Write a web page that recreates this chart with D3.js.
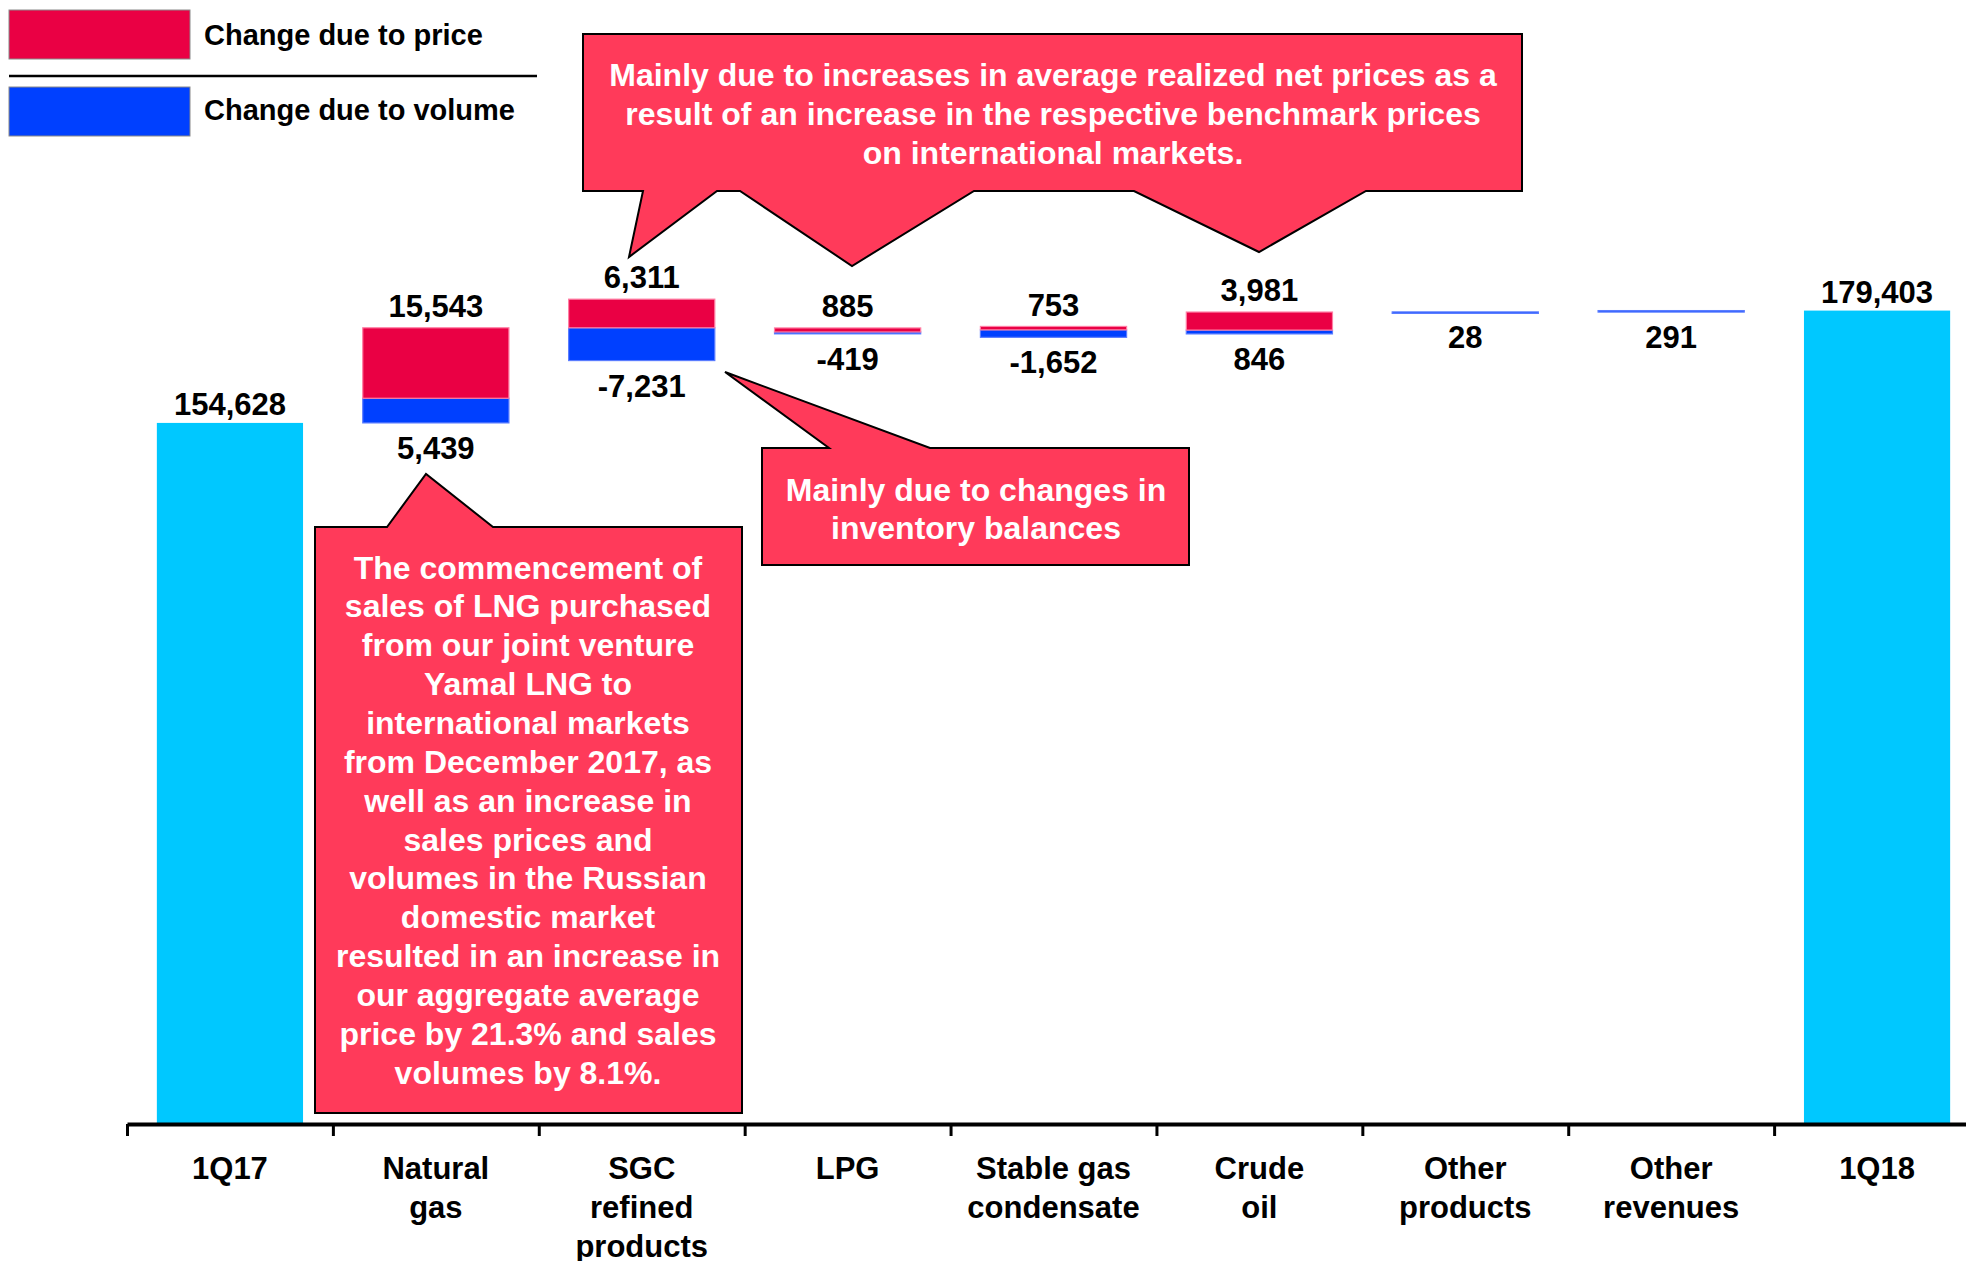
<!DOCTYPE html>
<html>
<head>
<meta charset="utf-8">
<style>
    body {
        margin: 0;
        background: white;
    }
    svg text {
        font-family: "Liberation Sans", Arial, Helvetica, sans-serif;
        font-weight: bold;
    }
</style>
<script src="https://cdn.jsdelivr.net/npm/d3@7"></script>
</head>
<body>
<svg id="chart"></svg>
<script>

// values
let categories = ["1Q17", "Natural gas", "SGC refined products", "LPG", "Stable gas condensate",
    "Crude oil", "Other products", "Other revenues", "1Q18"];
let categoryLines = [["1Q17"], ["Natural", "gas"], ["SGC", "refined", "products"], ["LPG"],
    ["Stable gas", "condensate"], ["Crude", "oil"], ["Other", "products"], ["Other", "revenues"], ["1Q18"]];
let totals = [154628, null, null, null, null, null, null, null, 179403];
let priceChange = [null, 15543, 6311, 885, 753, 3981, null, null, null];
let volumeChange = [null, 5439, -7231, -419, -1652, 846, 28, 291, null];
let legendLabels = ["Change due to price", "Change due to volume"];

let colors = {
    total: "#00c8ff",
    price: "#ea0044",
    volume: "#0040ff",
    priceEdge: "#ff7ea4",
    volumeEdge: "#5a7cff",
    callout: "#ff3a5a"
};

let fmt = d3.formatLocale({decimal: ".", thousands: ",", grouping: [3], currency: ["", ""], minus: "-"}).format(",");

// waterfall steps: volume goes first, price stacked on top of it
function buildSteps() {
    let steps = [];
    let running = 0;
    categories.forEach((c, i) => {
        if (totals[i] != null) {
            running = totals[i];
            steps.push({cat: c, total: totals[i], segs: [], top: totals[i], bottom: 0});
            return;
        }
        let up = running, down = running;
        let segs = [];
        [["volume", volumeChange[i]], ["price", priceChange[i]]].forEach(([type, v]) => {
            if (v == null) return;
            if (v >= 0) { segs.push({type, y0: up, y1: up + v}); up += v; }
            else { segs.push({type, y0: down + v, y1: down}); down += v; }
        });
        running += (priceChange[i] || 0) + (volumeChange[i] || 0);
        steps.push({cat: c, segs, top: up, bottom: down, price: priceChange[i], volume: volumeChange[i]});
    });
    return steps;
}

function getConfig() {
    let width = 1966;
    let height = 1261;
    let axisY = 1124;
    let container = d3.select("#chart").attr("width", width).attr("height", height);
    return {width, height, axisY, container};
}

function getScales(config) {
    let xScale = d3.scaleBand()
        .domain(categories)
        .range([127, 1980])
        .padding(0);
    // edges of the bands, used for the tick marks
    let xEdge = d3.scaleLinear()
        .domain([0, categories.length])
        .range(xScale.range());
    let yScale = d3.scaleLinear()
        .domain([0, 200000])
        .range([config.axisY, config.axisY - 200000 * 0.004534]);
    return {xScale, xEdge, yScale};
}

function drawBars(steps, scales, config) {
    let {xScale, yScale} = scales;
    let barW = xScale.bandwidth() * 0.71;
    let off = (xScale.bandwidth() - barW) / 2;
    let body = config.container.append("g");

    body.selectAll(".total").data(steps.filter(d => d.total != null))
        .enter().append("rect")
        .attr("x", d => xScale(d.cat) + off)
        .attr("width", barW)
        .attr("y", d => yScale(d.total))
        .attr("height", d => yScale(0) - yScale(d.total))
        .attr("fill", colors.total);

    let segs = [];
    steps.forEach(s => s.segs.forEach(g => segs.push(Object.assign({cat: s.cat}, g))));
    body.selectAll(".seg").data(segs)
        .enter().append("rect")
        .attr("x", d => xScale(d.cat) + off)
        .attr("width", barW)
        .attr("y", d => yScale(d.y1))
        .attr("height", d => Math.max(1.5, yScale(d.y0) - yScale(d.y1)))
        .attr("fill", d => colors[d.type])
        .attr("stroke", d => d.type == "price" ? colors.priceEdge : colors.volumeEdge)
        .attr("stroke-width", 1.2);
}

function drawValueLabels(steps, scales, config) {
    let {xScale, yScale} = scales;
    let labels = [];
    steps.forEach(s => {
        let cx = xScale(s.cat) + xScale.bandwidth() / 2;
        if (s.total != null) {
            labels.push({x: cx, y: yScale(s.total) - 19, text: fmt(s.total)});
            return;
        }
        if (s.price != null) labels.push({x: cx, y: yScale(s.top) - 22, text: fmt(s.price)});
        if (s.volume != null) labels.push({x: cx, y: yScale(s.bottom) + 25, text: fmt(s.volume)});
    });
    config.container.append("g").selectAll("text").data(labels)
        .enter().append("text")
        .attr("x", d => d.x)
        .attr("y", d => d.y)
        .attr("dy", "0.36em")
        .attr("text-anchor", "middle")
        .attr("font-size", 31)
        .attr("fill", "#000")
        .text(d => d.text);
}

function drawAxis(scales, config) {
    let {xScale, xEdge} = scales;
    let axis = d3.axisBottom(xEdge)
        .tickValues(d3.range(0, categories.length + 1))
        .tickSize(12)
        .tickSizeOuter(0)
        .tickFormat("");
    let g = config.container.append("g")
        .attr("transform", `translate(0,${config.axisY})`)
        .call(axis);
    g.select(".domain").attr("stroke", "#000").attr("stroke-width", 4);
    g.selectAll(".tick line").attr("stroke", "#000").attr("stroke-width", 3);

    let names = config.container.append("g").selectAll("text").data(categories)
        .enter().append("text")
        .attr("text-anchor", "middle")
        .attr("font-size", 31)
        .attr("fill", "#000")
        .attr("transform", d => `translate(${xScale(d) + xScale.bandwidth() / 2},${config.axisY + 44})`);
    names.selectAll("tspan").data((d, i) => categoryLines[i])
        .enter().append("tspan")
        .attr("x", 0)
        .attr("y", (d, j) => j * 39)
        .attr("dy", "0.36em")
        .text(d => d);
}

function drawLegend(config) {
    let g = config.container.append("g");
    let fills = [colors.price, colors.volume];
    g.selectAll("rect").data(legendLabels)
        .enter().append("rect")
        .attr("x", 9)
        .attr("y", (d, i) => 10 + i * 77)
        .attr("width", 181)
        .attr("height", 49)
        .attr("fill", (d, i) => fills[i])
        .attr("stroke", "#8a8a8a")
        .attr("stroke-width", 1);
    g.selectAll("text").data(legendLabels)
        .enter().append("text")
        .attr("x", 204)
        .attr("y", (d, i) => 35 + i * 75)
        .attr("dy", "0.36em")
        .attr("font-size", 29)
        .text(d => d);
    g.append("line")
        .attr("x1", 9).attr("x2", 537)
        .attr("y1", 76).attr("y2", 76)
        .attr("stroke", "#000")
        .attr("stroke-width", 2.5);
}

// speech bubbles with their pointers
function drawCallouts(config) {
    let callouts = [
        {
            shape: [[583, 34], [1522, 34], [1522, 191], [1366, 191], [1259, 252], [1134, 191],
                [974, 191], [852, 266], [740, 191], [717, 191], [629, 257], [643, 191], [583, 191]],
            cx: 1053, y0: 74, step: 39,
            lines: ["Mainly due to increases in average realized net prices as a",
                "result of an increase in the respective benchmark prices",
                "on international markets."]
        },
        {
            shape: [[762, 448], [829, 448], [725, 372], [930, 448], [1189, 448], [1189, 565], [762, 565]],
            cx: 976, y0: 489, step: 38,
            lines: ["Mainly due to changes in", "inventory balances"]
        },
        {
            shape: [[315, 527], [387, 527], [426, 474], [493, 527], [742, 527], [742, 1113], [315, 1113]],
            cx: 528, y0: 567, step: 38.87,
            lines: ["The commencement of", "sales of LNG purchased", "from our joint venture",
                "Yamal LNG to", "international markets", "from December 2017, as",
                "well as an increase in", "sales prices and", "volumes in the Russian",
                "domestic market", "resulted in an increase in", "our aggregate average",
                "price by 21.3% and sales", "volumes by 8.1%."]
        }
    ];
    let line = d3.line();
    let g = config.container.append("g");
    callouts.forEach(c => {
        g.append("path")
            .attr("d", line(c.shape) + "Z")
            .attr("fill", colors.callout)
            .attr("stroke", "#000")
            .attr("stroke-width", 2)
            .attr("stroke-linejoin", "miter");
        g.append("g").selectAll("text").data(c.lines)
            .enter().append("text")
            .attr("x", c.cx)
            .attr("y", (d, i) => c.y0 + i * c.step)
            .attr("dy", "0.36em")
            .attr("text-anchor", "middle")
            .attr("font-size", 32)
            .attr("fill", "#fff")
            .text(d => d);
    });
}

function showData() {
    let config = getConfig();
    let scales = getScales(config);
    let steps = buildSteps();
    drawBars(steps, scales, config);
    drawAxis(scales, config);
    drawValueLabels(steps, scales, config);
    drawLegend(config);
    drawCallouts(config);
}

showData();
</script>
</body>
</html>
